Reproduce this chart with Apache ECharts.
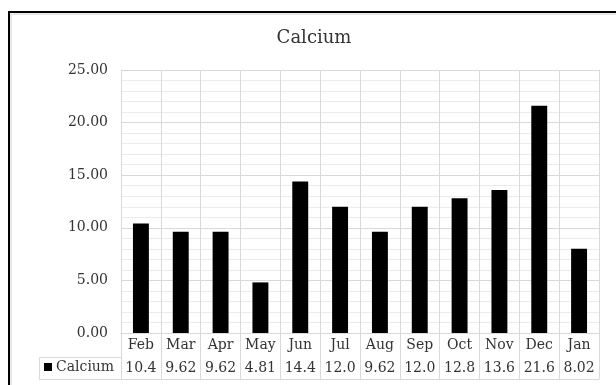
<!DOCTYPE html>
<html>
<head>
<meta charset="utf-8">
<script src="https://cdn.jsdelivr.net/npm/echarts@6/dist/echarts.min.js"></script>
<style>
  html, body { margin: 0; padding: 0; background: #fff; }
  #chart { width: 616px; height: 385px; }
</style>
</head>
<body>
<div id="chart"></div>
<script>
// Monthly calcium readings
const months = ['Feb', 'Mar', 'Apr', 'May', 'Jun', 'Jul', 'Aug', 'Sep', 'Oct', 'Nov', 'Dec', 'Jan'];
const calcium = [10.4, 9.62, 9.62, 4.81, 14.4, 12.0, 9.62, 12.0, 12.8, 13.6, 21.6, 8.02];
const seriesName = 'Calcium';
const yTicks = { min: 0, max: 25, step: 5 };

const FONT = 'DejaVu Serif';
const TEXT = '#333333';
const GRID = '#d9d9d9';
const MINOR = '#ebebeb';

// Data-table value row: three significant digits
const tableValues = calcium.map(v => v.toPrecision(3));

const chart = echarts.init(document.getElementById('chart'), null, { renderer: 'canvas' });

chart.setOption({
  animation: false,
  backgroundColor: '#fff',
  title: {
    text: seriesName,
    left: 314,
    top: 29,
    textAlign: 'center',
    padding: 0,
    textStyle: { fontFamily: FONT, fontSize: 18, fontWeight: 'normal', color: TEXT }
  },
  legend: {
    data: [seriesName],
    left: 44,
    top: 360,
    padding: 0,
    icon: 'rect',
    itemWidth: 8,
    itemHeight: 8,
    itemGap: 0,
    textStyle: { fontFamily: FONT, fontSize: 14, color: TEXT, padding: [0, 0, 0, -1] }
  },
  grid: { left: 121, right: 17, top: 70, bottom: 52, containLabel: false },
  xAxis: [
    {
      type: 'category',
      data: months,
      position: 'bottom',
      axisLine: { show: true, lineStyle: { color: GRID, width: 1 } },
      axisTick: { show: true, inside: false, length: 46, lineStyle: { color: GRID } },
      splitLine: { show: true, lineStyle: { color: GRID } },
      axisLabel: { fontFamily: FONT, fontSize: 14, color: TEXT, margin: 5, interval: 0 }
    },
    {
      type: 'category',
      data: months,
      position: 'bottom',
      offset: 24,
      axisLine: { show: true, lineStyle: { color: GRID } },
      axisTick: { show: false },
      splitLine: { show: false },
      axisLabel: {
        fontFamily: FONT, fontSize: 14, color: TEXT, margin: 4, interval: 0,
        formatter: (v, i) => tableValues[i]
      }
    },
    {
      type: 'category',
      data: months,
      position: 'bottom',
      offset: 46,
      axisLine: { show: true, lineStyle: { color: GRID } },
      axisTick: { show: false },
      splitLine: { show: false },
      axisLabel: { show: false }
    }
  ],
  yAxis: [
    {
      type: 'value',
      min: yTicks.min,
      max: yTicks.max,
      interval: yTicks.step,
      axisLine: { show: true, lineStyle: { color: GRID } },
      axisTick: { show: false },
      splitLine: { show: true, lineStyle: { color: GRID } },
      minorTick: { show: false, splitNumber: 5 },
      minorSplitLine: { show: true, lineStyle: { color: MINOR } },
      axisLabel: {
        fontFamily: FONT, fontSize: 14, color: TEXT, margin: 13,
        formatter: v => v.toFixed(2)
      }
    },
    {
      type: 'value',
      position: 'right',
      min: yTicks.min,
      max: yTicks.max,
      interval: yTicks.step,
      axisLine: { show: true, lineStyle: { color: GRID } },
      axisTick: { show: false },
      splitLine: { show: false },
      axisLabel: { show: false }
    }
  ],
  series: [
    {
      name: seriesName,
      type: 'bar',
      xAxisIndex: 0,
      yAxisIndex: 0,
      data: calcium,
      barWidth: '40%',
      itemStyle: { color: '#000' }
    }
  ],
  graphic: [
    // chart frame
    {
      type: 'rect',
      shape: { x: 9, y: 12, width: 800, height: 600 },
      style: { fill: null, stroke: '#000', lineWidth: 2 },
      silent: true
    },
    {
      type: 'polyline',
      shape: { points: [[11, 600], [11, 14], [800, 14]] },
      style: { fill: null, stroke: '#d0d0d0', lineWidth: 1 },
      silent: true
    },
    // series-name cell of the data table
    {
      type: 'polyline',
      shape: { points: [[121, 357.5], [39.5, 357.5], [39.5, 379.5], [121, 379.5]] },
      style: { fill: null, stroke: GRID, lineWidth: 1 },
      silent: true
    }
  ]
});
</script>
</body>
</html>
